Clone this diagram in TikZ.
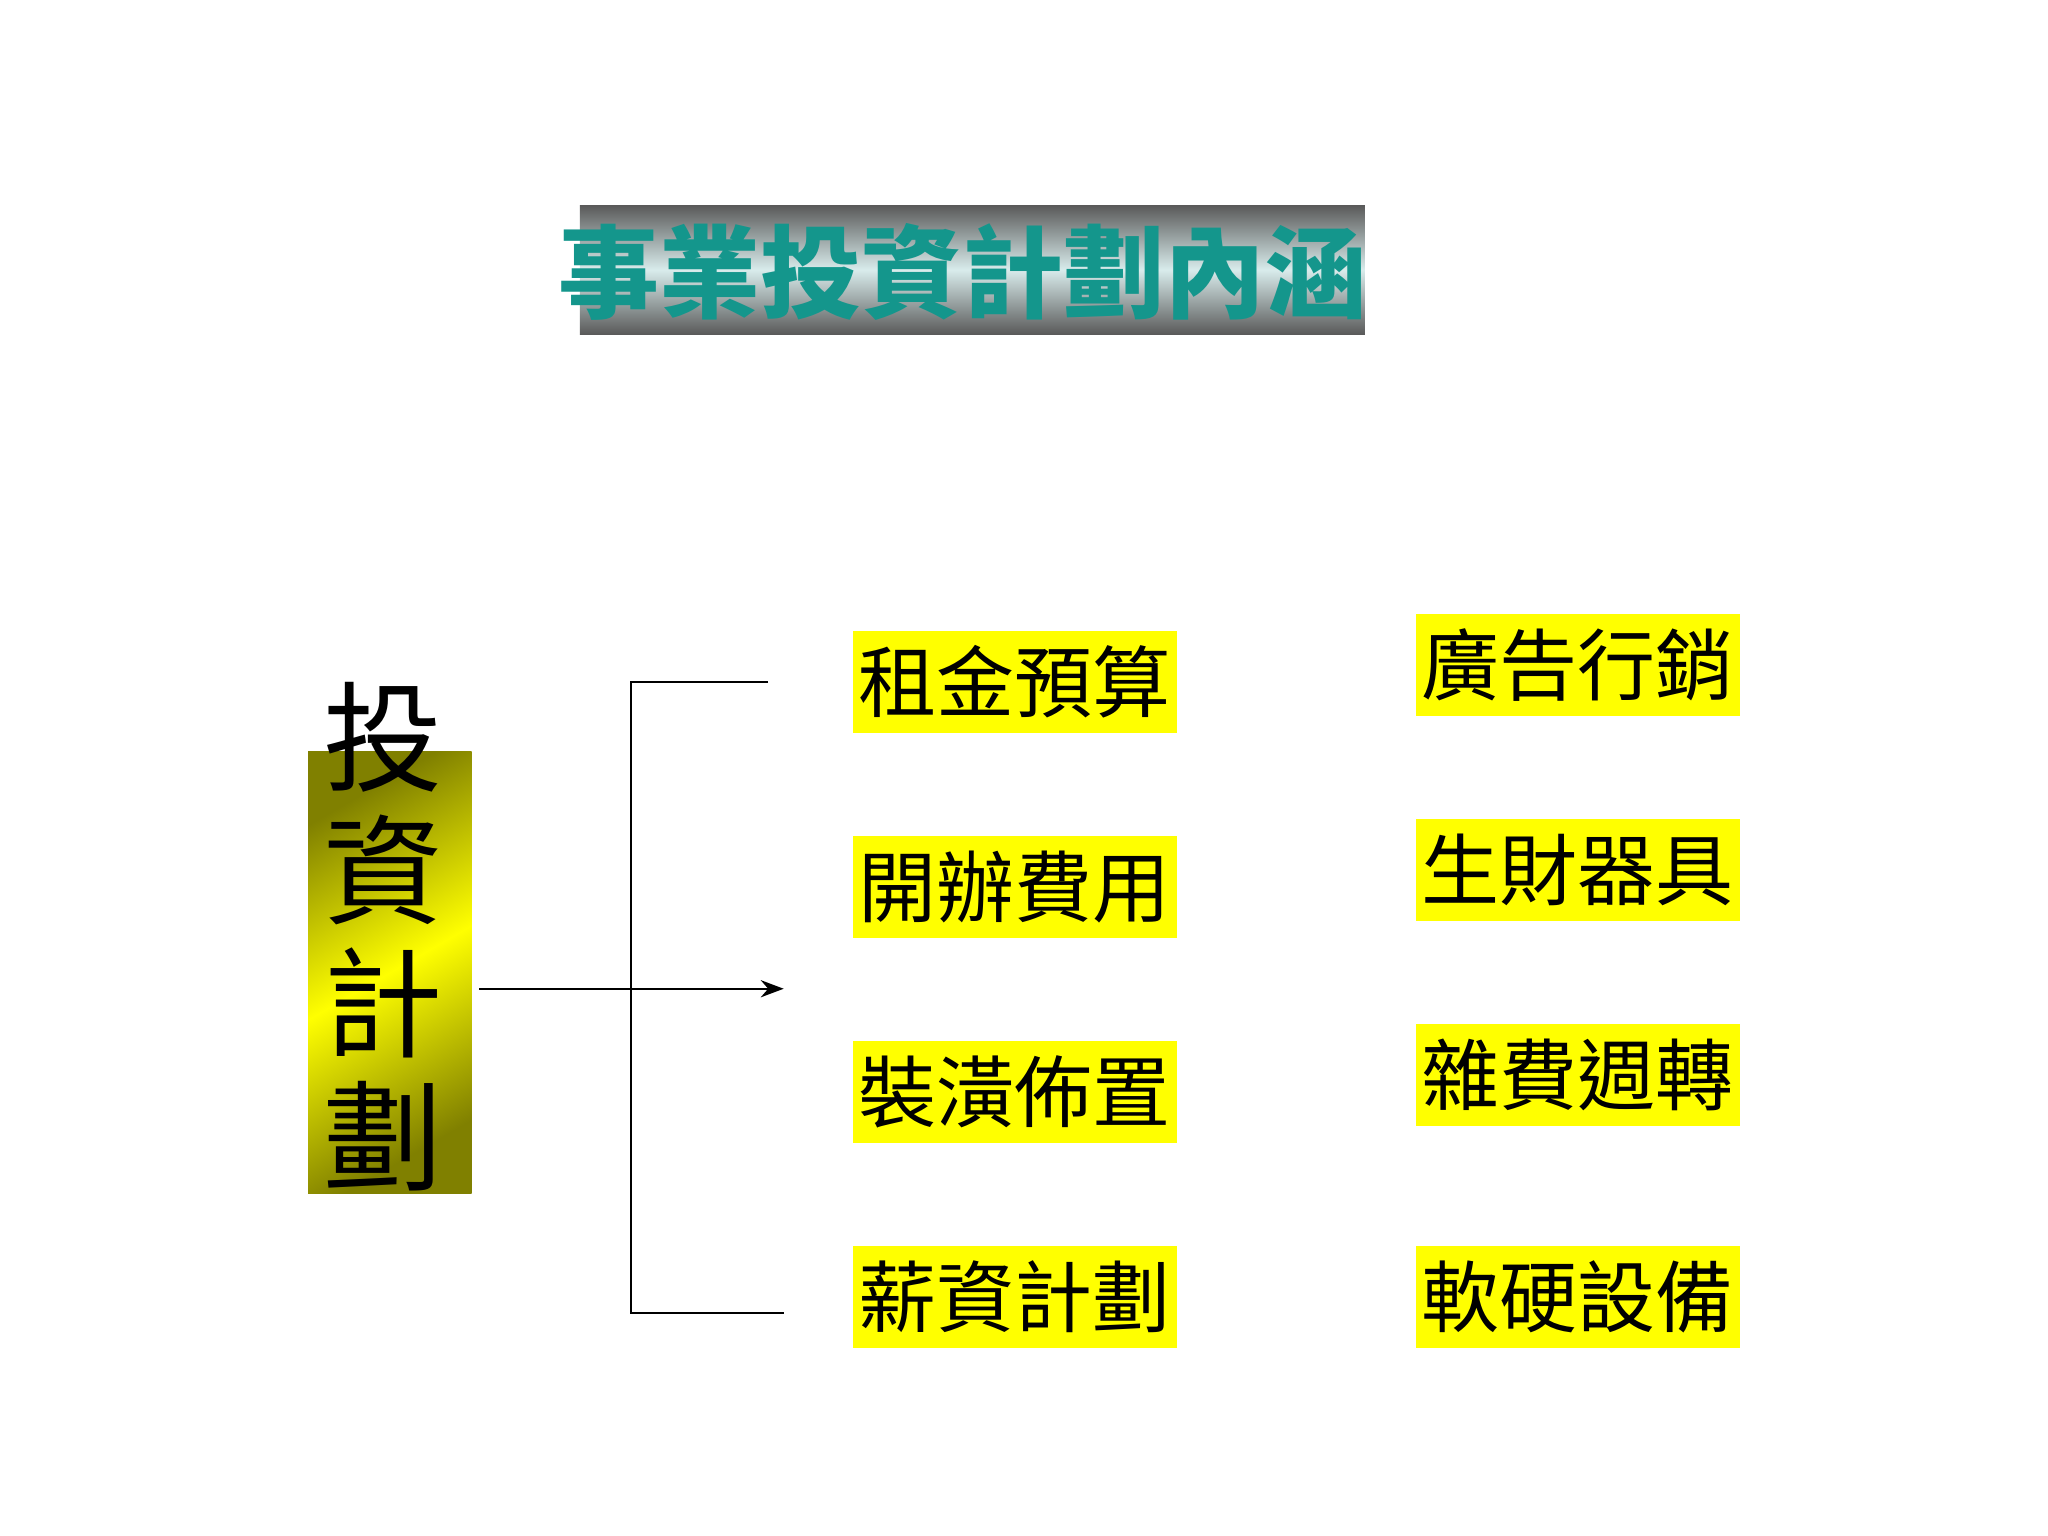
\documentclass[tikz,border=0pt]{standalone}
\usepackage{fontspec}
\newfontfamily\cjk{Noto Sans CJK TC}
\usetikzlibrary{arrows.meta}
\definecolor{ybox}{RGB}{255,255,0}
\definecolor{teal1}{RGB}{20,150,140}
\tikzset{x=0.02cm,y=-0.02cm,
 item/.style={fill=ybox,minimum width=4.96cm,minimum height=1.56cm,inner sep=0pt,font=\cjk\fontsize{34}{40}\selectfont},
 ln/.style={line width=0.8pt}}
\begin{document}
\begin{tikzpicture}
\useasboundingbox (0,0) rectangle (1568,1176);
% title
\shade[top color=gray!70!black,bottom color=gray!70!black,middle color=white!85!teal] (444,157) rectangle (1045,256);
\node[font=\cjk\fontsize{44}{50}\selectfont\bfseries,text=teal1] (title) at (737,208) {事業投資計劃內涵};
% left box
\shade[left color=yellow!50!black,right color=yellow!50!black,middle color=yellow,shading angle=30] (236,575) rectangle (361,914);
\node[font=\cjk\fontsize{52}{58}\selectfont,align=center,inner sep=0pt] (left) at (293,717) {投\\資\\計\\劃};
\coordinate (ls) at (367,757);
\coordinate (le) at (600,757);
\draw[ln,-{Stealth[length=10pt]}] (ls) -- (le);
\coordinate (b1) at (588,522);
\coordinate (b2) at (483,522);
\coordinate (b3) at (483,1005);
\coordinate (b4) at (600,1005);
\draw[ln] (b1) -- (b2) -- (b3) -- (b4);
% items
\node[item] (a1) at (777,522) {租金預算};
\node[item] (a2) at (777,679) {開辦費用};
\node[item] (a3) at (777,836) {裝潢佈置};
\node[item] (a4) at (777,993) {薪資計劃};
\node[item] (c1) at (1208,509) {廣告行銷};
\node[item] (c2) at (1208,666) {生財器具};
\node[item] (c3) at (1208,823) {雜費週轉};
\node[item] (c4) at (1208,993) {軟硬設備};
\end{tikzpicture}
\end{document}
